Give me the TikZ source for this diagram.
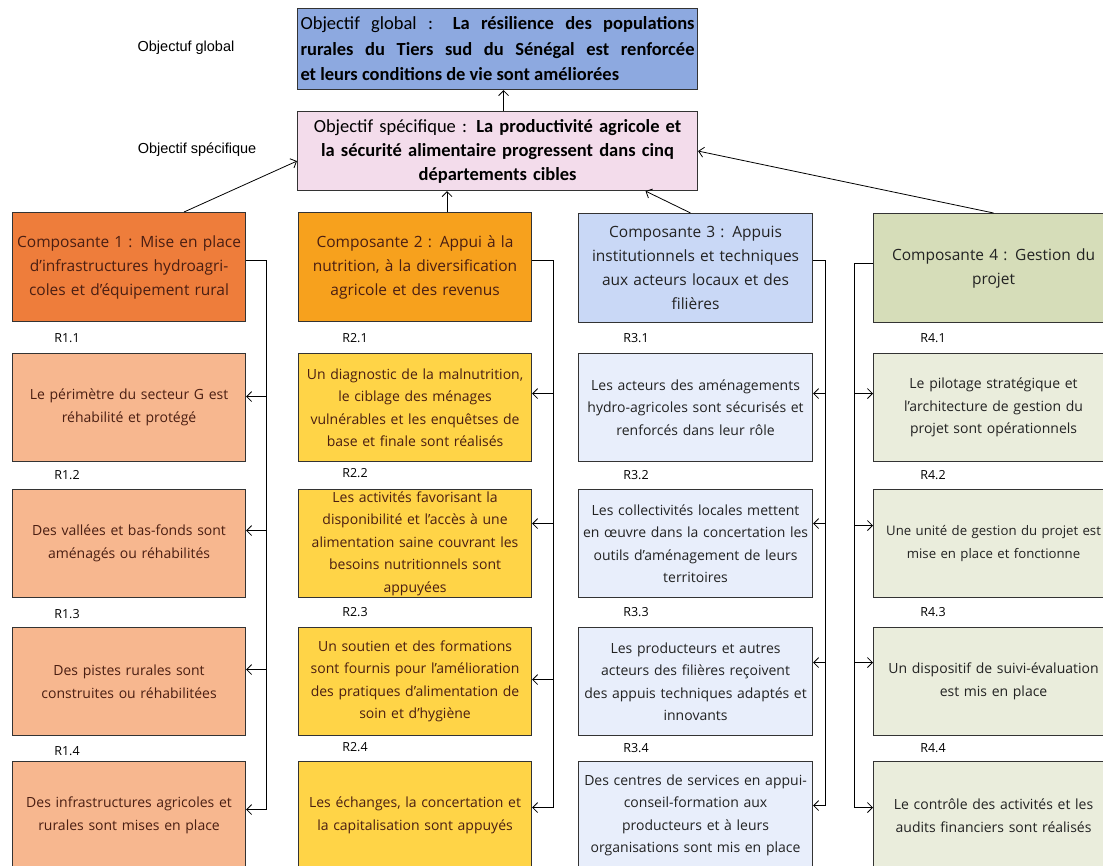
\documentclass[tikz,border=0pt]{standalone}
\usepackage{fontspec}
\setmainfont{Open Sans}
\newfontfamily\calfont{Carlito}
\newfontfamily\arialfont{Liberation Sans}
\usetikzlibrary{arrows.meta}
\definecolor{globfill}{HTML}{8DA9E0}
\definecolor{specfill}{HTML}{F3DCEB}
\definecolor{cAc}{HTML}{EE7D3B}
\definecolor{cAr}{HTML}{F7B78F}
\definecolor{cBc}{HTML}{F7A11D}
\definecolor{cBr}{HTML}{FFD447}
\definecolor{cCc}{HTML}{C9D8F6}
\definecolor{cCr}{HTML}{E8EEFB}
\definecolor{cDc}{HTML}{D6DDB9}
\definecolor{cDr}{HTML}{EAEDDC}
\definecolor{boxline}{HTML}{333333}
\definecolor{warmtext}{HTML}{4A1E12}
\definecolor{darktext}{HTML}{222222}
\begin{document}
\begin{tikzpicture}[x=1pt,y=-1pt,
  box/.style={draw=boxline, line width=1.1pt, inner xsep=1pt, inner ysep=0pt, align=center, anchor=north west},
  comp/.style={box, minimum height=109pt, font=\fontsize{15.5}{24}\selectfont},
  res/.style={box, minimum height=108pt, font=\fontsize{14}{22.5}\selectfont},
  colA/.style={text width=231pt, text=warmtext},
  colB/.style={text width=231pt, text=warmtext},
  colC/.style={text width=232pt, text=darktext},
  colD/.style={text width=238pt, text=darktext},
  arr/.style={-{Straight Barb[length=5pt,width=10pt]}, line width=0.8pt},
  bus/.style={line width=0.8pt},
  rlab/.style={font=\fontsize{12.5}{14}\selectfont},
  sidelab/.style={font=\arialfont\fontsize{14.5}{16}\selectfont}
]
\useasboundingbox (0,0) rectangle (1103,866);
\clip (0,0) rectangle (1103,866);

% objectives
\node[box, fill=globfill, text width=394pt, align=justify, minimum height=81pt, inner xsep=3pt,
      font=\calfont\fontsize{18.5}{25.5}\selectfont] (glob) at (297,8)
  {Objectif global : \textbf{La résilience des populations}\linebreak \textbf{rurales du Tiers sud du Sénégal est renforcée}\linebreak \textbf{et leurs conditions de vie sont améliorées}};
\node[box, fill=specfill, text width=394pt, minimum height=79pt, inner xsep=3pt,
      font=\calfont\fontsize{18.5}{24}\selectfont] (spec) at (297,111)
  {Objectif spécifique : \textbf{La productivité agricole et}\\ \textbf{la sécurité alimentaire progressent dans cinq}\\ \textbf{départements cibles}};

\node[sidelab] (lg) at (186,48) {Objectuf global};
\node[sidelab] (ls) at (197,150) {Objectif spécifique};

% components
\node[comp, colA, fill=cAc] (c1) at (12,212) {Composante 1 : Mise en place\\ d'infrastructures hydroagri-\\ coles et d'équipement rural};
\node[comp, colB, fill=cBc] (c2) at (298,212) {Composante 2 : Appui à la\\ nutrition, à la diversification\\ agricole et des revenus};
\node[comp, colC, fill=cCc] (c3) at (578,213) {Composante 3 : Appuis\\ institutionnels et techniques\\ aux acteurs locaux et des\\ filières};
\node[comp, colD, fill=cDc] (c4) at (873,213) {Composante 4 : Gestion du\\ projet};

% result labels
\node[rlab] (l11) at (67,338) {R1.1};
\node[rlab] (l12) at (67,475) {R1.2};
\node[rlab] (l13) at (67,614) {R1.3};
\node[rlab] (l14) at (67,751) {R1.4};
\node[rlab] (l21) at (355,338) {R2.1};
\node[rlab] (l22) at (355,473) {R2.2};
\node[rlab] (l23) at (355,612) {R2.3};
\node[rlab] (l24) at (355,747) {R2.4};
\node[rlab] (l31) at (636,338) {R3.1};
\node[rlab] (l32) at (636,475) {R3.2};
\node[rlab] (l33) at (636,612) {R3.3};
\node[rlab] (l34) at (636,748) {R3.4};
\node[rlab] (l41) at (933,338) {R4.1};
\node[rlab] (l42) at (933,475) {R4.2};
\node[rlab] (l43) at (933,612) {R4.3};
\node[rlab] (l44) at (933,748) {R4.4};

% results column 1
\node[res, colA, fill=cAr] (r11) at (12,353) {Le périmètre du secteur G est\\ réhabilité et protégé};
\node[res, colA, fill=cAr] (r12) at (12,489) {Des vallées et bas-fonds sont\\ aménagés ou réhabilités};
\node[res, colA, fill=cAr] (r13) at (12,627) {Des pistes rurales sont\\ construites ou réhabilitées};
\node[res, colA, fill=cAr] (r14) at (12,761) {Des infrastructures agricoles et\\ rurales sont mises en place};
% results column 2
\node[res, colB, fill=cBr] (r21) at (298,353) {Un diagnostic de la malnutrition,\\ le ciblage des ménages\\ vulnérables et les enquêtses de\\ base et finale sont réalisés};
\node[res, colB, fill=cBr] (r22) at (298,489) {Les activités favorisant la\\ disponibilité et l'accès à une\\ alimentation saine couvrant les\\ besoins nutritionnels sont\\ appuyées};
\node[res, colB, fill=cBr] (r23) at (298,627) {Un soutien et des formations\\ sont fournis pour l'amélioration\\ des pratiques d'alimentation de\\ soin et d'hygiène};
\node[res, colB, fill=cBr] (r24) at (298,761) {Les échanges, la concertation et\\ la capitalisation sont appuyés};
% results column 3
\node[res, colC, fill=cCr] (r31) at (578,353) {Les acteurs des aménagements\\ hydro-agricoles sont sécurisés et\\ renforcés dans leur rôle};
\node[res, colC, fill=cCr] (r32) at (578,489) {Les collectivités locales mettent\\ en œuvre dans la concertation les\\ outils d'aménagement de leurs\\ territoires};
\node[res, colC, fill=cCr] (r33) at (578,627) {Les producteurs et autres\\ acteurs des filières reçoivent\\ des appuis techniques adaptés et\\ innovants};
\node[res, colC, fill=cCr] (r34) at (578,761) {Des centres de services en appui-\\ conseil-formation aux\\ producteurs et à leurs\\ organisations sont mis en place};
% results column 4
\node[res, colD, fill=cDr] (r41) at (873,353) {Le pilotage stratégique et\\ l'architecture de gestion du\\ projet sont opérationnels};
\node[res, colD, fill=cDr, text width=226pt, minimum width=240pt, font=\fontsize{13.2}{22.5}\selectfont] (r42) at (873,489) {Une unité de gestion du projet est\\ mise en place et fonctionne};
\node[res, colD, fill=cDr] (r43) at (873,627) {Un dispositif de suivi-évaluation\\ est mis en place};
\node[res, colD, fill=cDr] (r44) at (873,761) {Le contrôle des activités et les\\ audits financiers sont réalisés};

% connectors to objectives
\draw[arr] ([xshift=6pt]spec.north) -- ([xshift=6pt]glob.south);
\draw[arr] ([xshift=55pt]c1.north) -- ([yshift=-10pt]spec.west);
\coordinate (c2t) at ([xshift=32pt]c2.north);
\draw[arr] (c2t) -- (c2t |- spec.south);
\draw[arr] ([xshift=-5pt]c3.north) -- ([xshift=148pt]spec.south);
\draw[arr] (c4.north) -- (spec.east);

% buses
\coordinate (b1) at (266,260);
\coordinate (b2) at (553,260);
\coordinate (b3) at (825,260);
\coordinate (b4) at (854,263);

\coordinate (a11) at ([yshift=11pt]r11.east);
\coordinate (a12) at ([yshift=13pt]r12.east);
\coordinate (a13) at ([yshift=12pt]r13.east);
\coordinate (a14) at ([yshift=6pt]r14.east);
\coordinate (a21) at ([yshift=14pt]r21.east);
\coordinate (a22) at ([yshift=20pt]r22.east);
\coordinate (a23) at ([yshift=2pt]r23.east);
\coordinate (a24) at ([yshift=8pt]r24.east);
\coordinate (a31) at ([yshift=14pt]r31.east);
\coordinate (a32) at ([yshift=20pt]r32.east);
\coordinate (a33) at ([yshift=19pt]r33.east);
\coordinate (a34) at ([yshift=10pt]r34.east);
\coordinate (a41) at ([yshift=14pt]r41.west);
\coordinate (a42) at ([yshift=18pt]r42.west);
\coordinate (a43) at ([yshift=19pt]r43.west);
\coordinate (a44) at ([yshift=8pt]r44.west);

\draw[bus] (c1.east |- b1) -- (b1) -- (b1 |- a14);
\draw[bus] (c2.east |- b2) -- (b2) -- (b2 |- a24);
\draw[bus] (c3.east |- b3) -- (b3) -- (b3 |- a34);
\draw[bus] (c4.west |- b4) -- (b4) -- (b4 |- a44);

\foreach \i in {1,2,3,4} {
  \draw[arr] (b1 |- a1\i) -- (a1\i);
  \draw[arr] (b2 |- a2\i) -- (a2\i);
  \draw[arr] (b3 |- a3\i) -- (a3\i);
  \draw[arr] (b4 |- a4\i) -- (a4\i);
}
\end{tikzpicture}
\end{document}
